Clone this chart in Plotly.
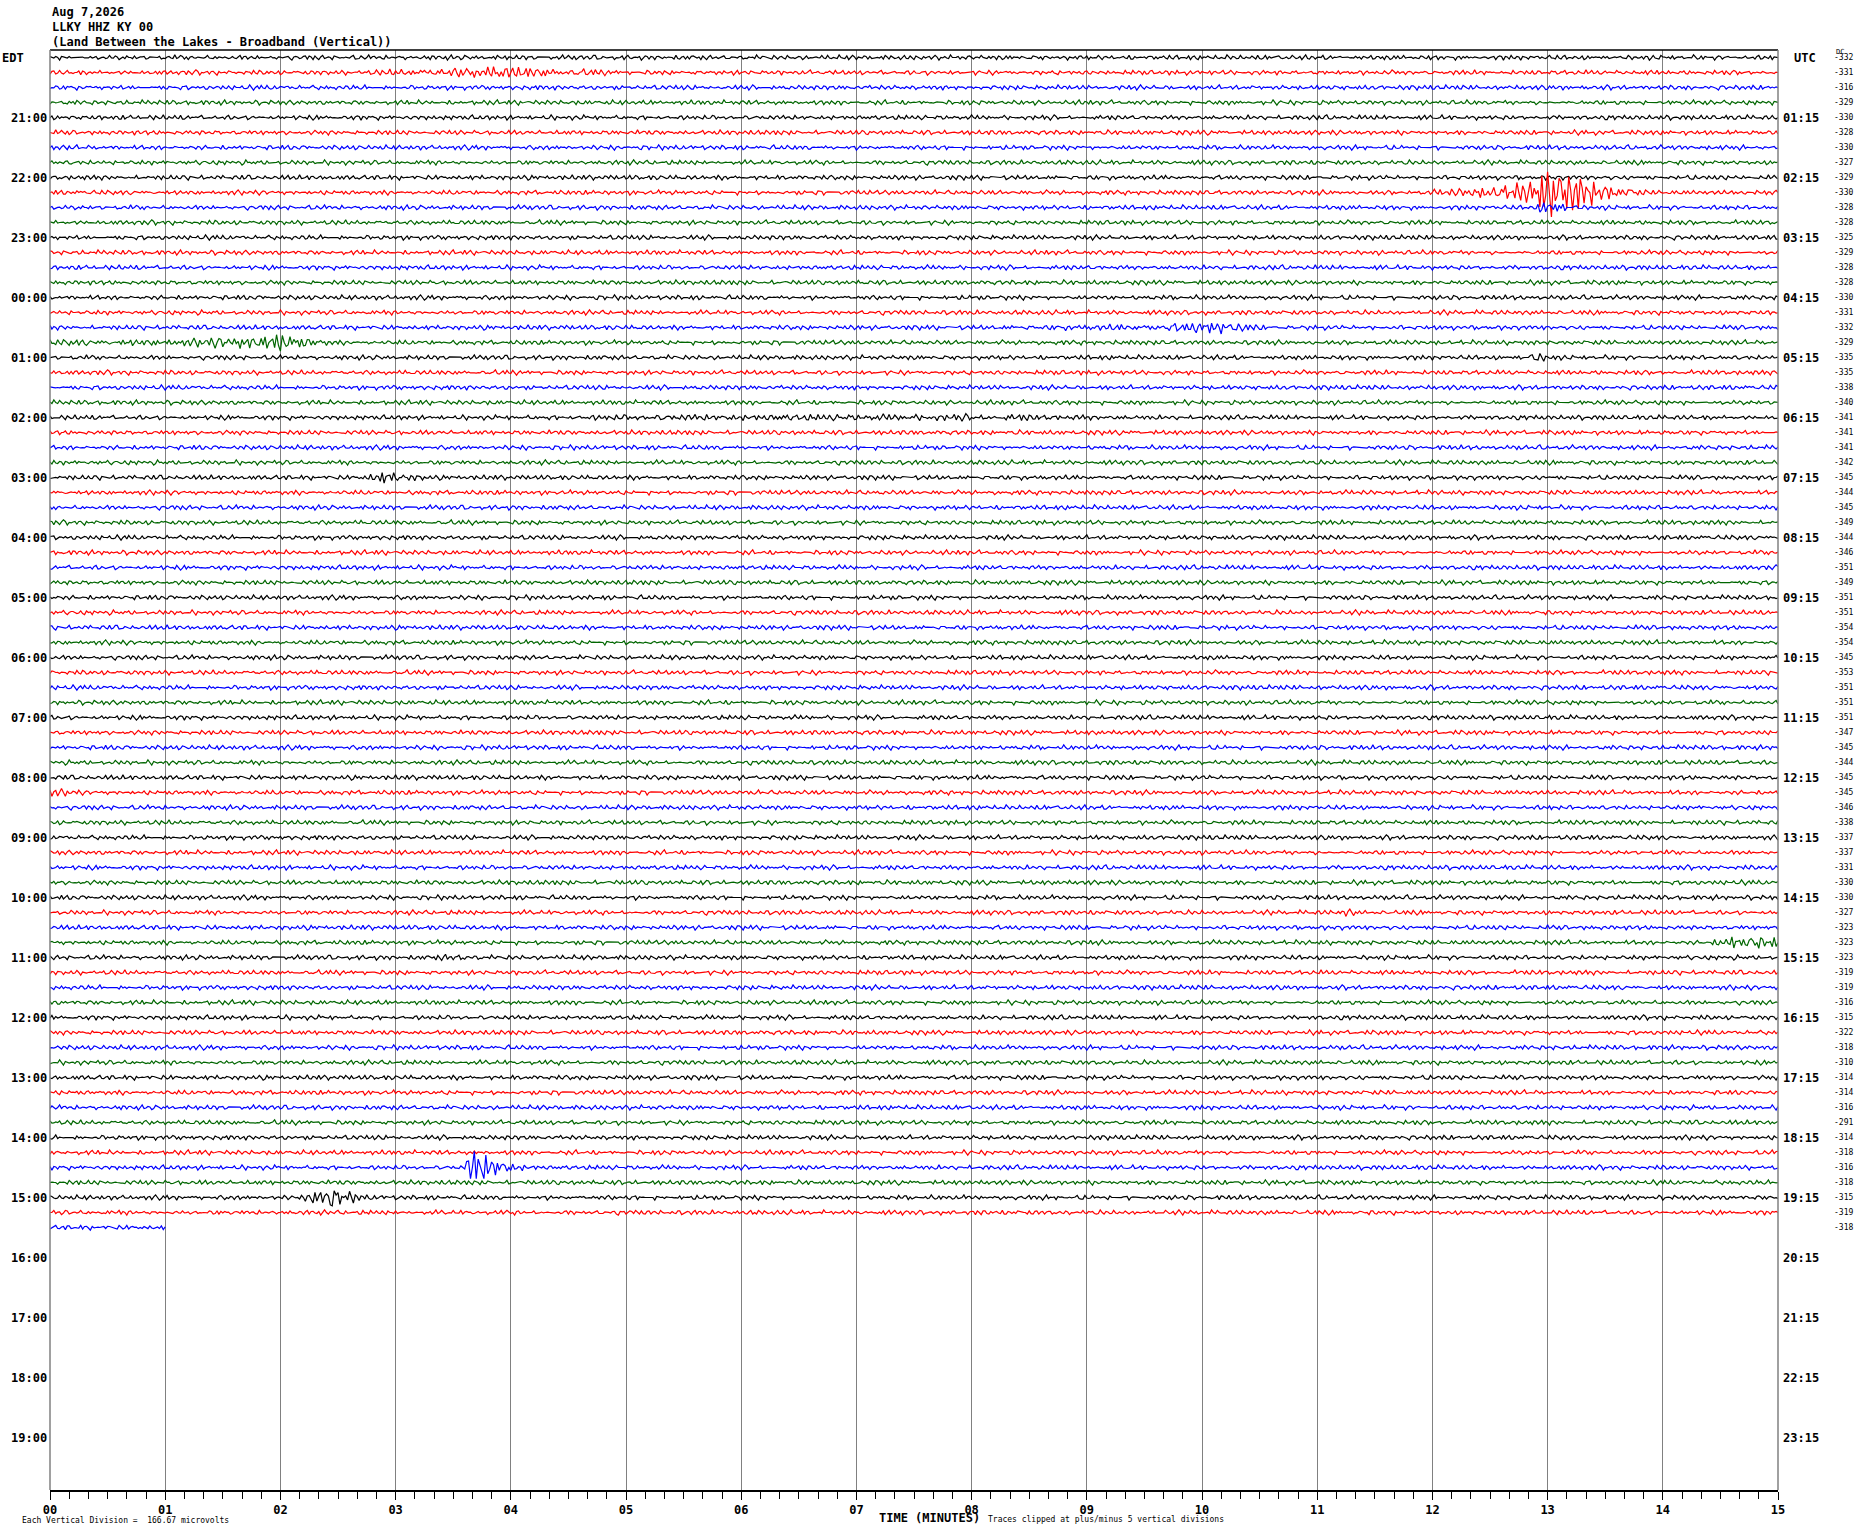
import numpy as np
import plotly.graph_objects as go

# ---------------- data ----------------
TITLE_LINES = ["Aug 7,2026", "LLKY HHZ KY 00", "(Land Between the Lakes - Broadband (Vertical))"]
EDT_LABELS = ["21:00", "22:00", "23:00", "00:00", "01:00", "02:00", "03:00", "04:00", "05:00",
              "06:00", "07:00", "08:00", "09:00", "10:00", "11:00", "12:00", "13:00", "14:00",
              "15:00", "16:00", "17:00", "18:00", "19:00"]
UTC_LABELS = ["01:15", "02:15", "03:15", "04:15", "05:15", "06:15", "07:15", "08:15", "09:15",
              "10:15", "11:15", "12:15", "13:15", "14:15", "15:15", "16:15", "17:15", "18:15",
              "19:15", "20:15", "21:15", "22:15", "23:15"]
DC_VALUES = [-332, -331, -316, -329, -330, -328, -330, -327, -329, -330, -328, -328, -325, -329,
             -328, -328, -330, -331, -332, -329, -335, -335, -338, -340, -341, -341, -341, -342,
             -345, -344, -345, -349, -344, -346, -351, -349, -351, -351, -354, -354, -345, -353,
             -351, -351, -351, -347, -345, -344, -345, -345, -346, -338, -337, -337, -331, -330,
             -330, -327, -323, -323, -323, -319, -319, -316, -315, -322, -318, -310, -314, -314,
             -316, -291, -314, -318, -316, -318, -315, -319, -318]
X_TICK_LABELS = ["00", "01", "02", "03", "04", "05", "06", "07", "08", "09", "10", "11", "12",
                 "13", "14", "15"]
TRACE_COLORS = ["#000000", "#ff0000", "#0000ff", "#006600"]
N_ROWS_TOTAL = 96
N_FULL_ROWS = 78
PARTIAL_ROW_MINUTES = 1.0
MINUTES_PER_ROW = 15.0
SAMPLES_PER_ROW = 900

# hand-estimated background wiggle shape (pixels) and fine jitter
WIGGLE = [0, 1, 2, 2, 1, 0, -1, -2, -1, 0, 1, 1, 0, -1, -2, -3, -2, -1, 0, 1,
          2, 3, 2, 1, 0, 0, -1, -1, -2, -1, 0, 1, 2, 1, 0, -1, -2, -2, -1, 0,
          1, 2, 2, 3, 2, 1, 0, -1, -2, -3, -2, -1, 0, 0, 1, 1, 0, -1, -1, 0,
          1, 2, 1, 0, -1, -2, -1, 0, 1, 2, 2, 1, 0, -1, -2, -3, -3, -2, -1, 0,
          1, 2, 1, 0, -1, 0, 1, 0, -1, -2, -1, 0, 1, 2, 3, 2, 1, 0, -1, -1, 0]
JITTER = [1, -1, 0, 1, 0, -1, 1, -1, 0, 0, 1, -1, 1, 0, -1, 0, 1, 1, -1, 0,
          -1, 1, 0, -1, 1, 0, 0, -1, 1, -1, 0, 1, -1, 0, 1, 0, -1, -1, 1, 0,
          1, -1, 0, 0, 1, -1, 1, 0, -1, 1, 0, -1, 0, 1, -1, 1, 0, 0, -1, 1,
          -1, 0, 1, 0, -1, 1, -1, 0, 1, 1, -1, 0, -1, 1, 0, -1, 0, 1, -1, 1,
          0, -1, 1, 0, 0, -1, 1, -1, 0]

# events: row -> list of (minute, amplitude multiplier)
EVENTS = {
    1: [(2.6, 1.0), (3.5, 1.6), (3.9, 2.0), (4.4, 1.5), (5.0, 1.0)],
    9: [(11.9, 1.0), (12.3, 1.6), (12.7, 2.3), (12.9, 3.2), (12.95, 5.5), (13.05, 6.0),
        (13.2, 5.0), (13.35, 4.0), (13.45, 3.0), (13.6, 1.8), (13.9, 1.0)],
    10: [(12.85, 1.0), (13.0, 2.2), (13.15, 1.8), (13.3, 1.0)],
    18: [(8.0, 1.0), (9.5, 1.3), (9.9, 1.7), (10.07, 2.1), (10.3, 1.5), (10.6, 1.0)],
    19: [(0.0, 1.2), (1.2, 1.4), (1.8, 2.2), (1.95, 2.6), (2.2, 1.8), (2.5, 1.0)],
    20: [(12.7, 1.0), (12.85, 1.7), (13.0, 1.4), (13.1, 1.0)],
    24: [(4.0, 1.0), (5.5, 1.3), (8.5, 1.3), (9.5, 1.0)],
    28: [(2.7, 1.0), (2.85, 2.0), (3.0, 1.7), (3.3, 1.0)],
    49: [(0.0, 1.5), (0.3, 1.0)],
    57: [(11.2, 1.0), (11.27, 1.7), (11.35, 1.0)],
    59: [(14.4, 1.0), (14.6, 2.1), (14.9, 1.9), (15.0, 1.7)],
    60: [(3.3, 1.0), (3.5, 1.5), (3.8, 1.0)],
    74: [(3.6, 1.0), (3.64, 4.5), (3.7, 4.5), (3.85, 2.6), (4.05, 1.4), (4.3, 1.0)],
    76: [(2.2, 1.0), (2.3, 2.6), (2.4, 2.6), (2.6, 1.8), (2.75, 1.2), (2.9, 1.0)],
}

# ---------------- geometry ----------------
FIG_W, FIG_H = 1858, 1534
M_L, M_R, M_T, M_B = 50, 80, 50, 44
PLOT_W = FIG_W - M_L - M_R
PLOT_H = FIG_H - M_T - M_B
ROW_PX = PLOT_H / N_ROWS_TOTAL


def px_to_paper_x(px):
    return (px - M_L) / PLOT_W


def px_to_paper_y(py):
    return (FIG_H - M_B - py) / PLOT_H


wig = np.array(WIGGLE, dtype=float)
jit = np.array(JITTER, dtype=float)

xs = {c: [] for c in range(4)}
ys = {c: [] for c in range(4)}
for r in range(N_FULL_ROWS + 1):
    minutes = MINUTES_PER_ROW if r < N_FULL_ROWS else PARTIAL_ROW_MINUTES
    n = int(round(SAMPLES_PER_ROW * minutes / MINUTES_PER_ROW)) + 1
    k = np.arange(n)
    t = k * (MINUTES_PER_ROW / SAMPLES_PER_ROW)
    env = np.ones(n)
    if r in EVENTS:
        pts = EVENTS[r]
        env = np.interp(t, [p[0] for p in pts], [p[1] for p in pts])
    boost = np.minimum(env, 2.5)
    v = (wig[(3 * k + 17 * r) % len(wig)] * 0.55 * env
         + jit[(k + 29 * r) % len(jit)] * 1.0 * env * boost)
    v = np.clip(v, -75, 75)
    c = r % 4
    xs[c].extend(t.tolist() + [None])
    ys[c].extend((r - v / ROW_PX).tolist() + [None])

fig = go.Figure()
for c in range(4):
    fig.add_trace(go.Scatter(x=xs[c], y=ys[c], mode="lines",
                             line=dict(color=TRACE_COLORS[c], width=1.2),
                             hoverinfo="skip", showlegend=False))

BOLD = dict(family="DejaVu Sans Mono", size=12, color="black", weight="bold")
SMALL = dict(family="DejaVu Sans Mono", size=8, color="black")

ann = []
for i, line in enumerate(TITLE_LINES):
    ann.append(dict(x=0, y=px_to_paper_y(12.5 + 14.6 * i), xref="paper", yref="paper", text=line,
                    showarrow=False, xanchor="left", yanchor="middle", font=BOLD))
ann.append(dict(x=px_to_paper_x(0), y=0, xref="paper", yref="y", text="EDT", showarrow=False,
                xanchor="left", yanchor="middle", font=BOLD))
ann.append(dict(x=px_to_paper_x(1792), y=0, xref="paper", yref="y", text="UTC", showarrow=False,
                xanchor="left", yanchor="middle", font=BOLD))
for i, lab in enumerate(EDT_LABELS):
    ann.append(dict(x=px_to_paper_x(49), y=4 * (i + 1), xref="paper", yref="y", text=lab,
                    showarrow=False, xanchor="right", yanchor="middle", font=BOLD))
for i, lab in enumerate(UTC_LABELS):
    ann.append(dict(x=px_to_paper_x(1781), y=4 * (i + 1), xref="paper", yref="y", text=lab,
                    showarrow=False, xanchor="left", yanchor="middle", font=BOLD))
for r, val in enumerate(DC_VALUES):
    ann.append(dict(x=px_to_paper_x(1832), y=r, xref="paper", yref="y", text=str(val),
                    showarrow=False, xanchor="left", yanchor="middle", font=SMALL))
ann.append(dict(x=px_to_paper_x(1834), y=-0.35, xref="paper", yref="y", text="DC",
                showarrow=False, xanchor="left", yanchor="middle",
                font=dict(family="DejaVu Sans Mono", size=7, color="black")))
ann.append(dict(x=px_to_paper_x(20), y=px_to_paper_y(1520), xref="paper", yref="paper",
                text="Each Vertical Division =  166.67 microvolts", showarrow=False,
                xanchor="left", yanchor="middle", font=SMALL))
ann.append(dict(x=px_to_paper_x(877), y=px_to_paper_y(1518), xref="paper", yref="paper",
                text="TIME (MINUTES)", showarrow=False, xanchor="left", yanchor="middle", font=BOLD))
ann.append(dict(x=px_to_paper_x(986), y=px_to_paper_y(1519), xref="paper", yref="paper",
                text="Traces clipped at plus/minus 5 vertical divisions", showarrow=False,
                xanchor="left", yanchor="middle", font=SMALL))

shapes = [
    dict(type="line", xref="paper", yref="paper", x0=0, x1=1, y0=1, y1=1,
         line=dict(color="black", width=1.5)),
    dict(type="line", xref="paper", yref="paper", x0=0, x1=0, y0=0, y1=1,
         line=dict(color="#808080", width=1.5)),
    dict(type="line", xref="paper", yref="paper", x0=1, x1=1, y0=0, y1=1,
         line=dict(color="#808080", width=1.5)),
]

fig.update_layout(
    width=FIG_W, height=FIG_H,
    margin=dict(l=M_L, r=M_R, t=M_T, b=M_B, pad=0),
    paper_bgcolor="white", plot_bgcolor="white",
    showlegend=False,
    annotations=ann, shapes=shapes,
    xaxis=dict(range=[0, 15], tickmode="array", tickvals=list(range(16)), ticktext=X_TICK_LABELS,
               showgrid=True, gridcolor="#808080", gridwidth=1, zeroline=False,
               showline=True, linecolor="black", linewidth=1.5,
               ticks="outside", ticklen=8, tickcolor="black", tickwidth=1,
               ticklabelstandoff=0,
               tickfont=BOLD,
               minor=dict(tickmode="linear", tick0=0, dtick=1 / 6, ticks="outside", ticklen=7,
                          tickcolor="black", tickwidth=1, showgrid=False)),
    yaxis=dict(range=[N_ROWS_TOTAL - 0.5, -0.5], showgrid=False, zeroline=False,
               showticklabels=False, ticks="", showline=False),
)

fig.write_html("out.html", config={"displayModeBar": False},
               post_script="document.body.style.margin='0px';")
